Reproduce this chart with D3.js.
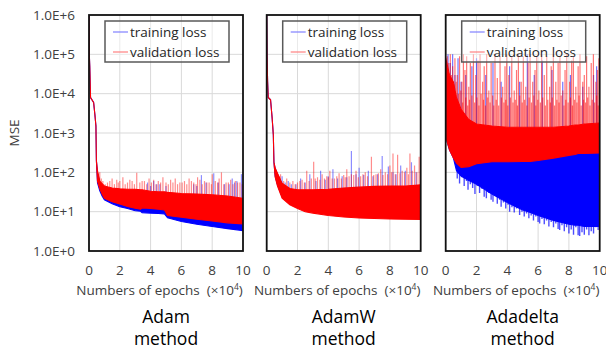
<!DOCTYPE html>
<html>
<head>
<meta charset="utf-8">
<script src="https://cdn.jsdelivr.net/npm/d3@7"></script>
<style>
body{margin:0;background:#fff;}
text{font-family:"Open Sans",sans-serif;}
</style>
</head>
<body>
<svg id="chart" width="606" height="349"></svg>
<script>
// ---- data (epochs in units of 10^4, loss = MSE) ----
const methods = ["Adam", "AdamW", "Adadelta"];
const seriesNames = ["training loss", "validation loss"];
const xTicks = [0, 2, 4, 6, 8, 10];
const yTicks = [1, 10, 100, 1e3, 1e4, 1e5, 1e6];
const yTickLabels = ["1.0E+0", "1.0E+1", "1.0E+2", "1.0E+3", "1.0E+4", "1.0E+5", "1.0E+6"];

// Adam
const adamEpochs   = [0, 0.02, 0.05, 0.1, 0.3, 0.38, 0.45, 0.48, 0.55, 0.7, 0.85, 1, 1.5, 2, 2.5, 3, 3.35, 3.45, 4, 4.5, 4.9, 5.1, 6, 7, 8, 9, 10];
const adamTrainLo  = [1e6, 1e5, 5e4, 8e3, 6e3, 3e3, 1.5e3, 200, 55, 34, 25, 20, 16, 13.4, 12, 10.6, 10.2, 9.4, 9.2, 9, 8.8, 7, 5.6, 4.8, 4.2, 3.7, 3.3];
const adamTrainHi  = [1e6, 1e5, 5e4, 8e3, 6e3, 3e3, 1.5e3, 200, 100, 55, 45, 40, 35, 33, 32, 32, 31, 31, 29, 28, 28, 27, 25, 24, 23, 22, 20];
const adamValidLo  = [1e6, 1e5, 5e4, 8e3, 6e3, 3e3, 1.5e3, 200, 60, 38, 28, 22, 18, 15.7, 13.5, 12.2, 11.5, 12.5, 12, 11.5, 11, 8, 7.2, 6.4, 5.8, 5.2, 4.9];
const adamValidHi  = [1e6, 1e5, 5e4, 8e3, 6e3, 3e3, 1.5e3, 200, 110, 60, 52, 45, 40, 38, 37, 37, 36, 36, 33, 32, 32, 31, 29, 28, 27, 25, 22];
const adamTrainSpikes = [[3.8,55],[4.2,60],[4.6,50],[5.0,45],[6.8,50],[7.3,85],[8.1,95],[8.4,55],[8.8,50],[9.3,70],[9.6,60],[9.9,90],[4.0,45],[4.4,50],[7.0,45],[7.6,55],[9.1,50],[9.45,55]];
const adamValidSpikes = [[0.7,100],[0.9,60],[1.2,55],[1.5,70],[1.8,65],[2.0,60],[2.2,75],[2.5,55],[2.8,60],[3.1,98],[3.3,55],[3.6,60],[3.9,70],[4.2,65],[4.5,60],[4.8,75],[5.0,55],[5.3,65],[5.6,70],[5.9,55],[6.2,60],[6.5,70],[6.8,55],[7.2,65],[7.5,60],[7.8,55],[8.0,90],[8.2,60],[8.6,100],[8.9,55],[9.2,65],[9.5,60],[9.8,55],
  [0.8,70],[1.05,50],[1.35,60],[1.65,50],[1.9,55],[2.35,50],[2.65,65],[2.95,50],[3.45,60],[3.75,50],[4.05,55],[4.35,50],[4.65,55],[5.15,50],[5.45,55],[5.75,50],[6.05,55],[6.35,50],[6.65,60],[6.95,50],[7.05,75],[7.35,50],[7.65,55],[7.95,50],[8.35,55],[8.45,70],[8.75,50],[9.05,55],[9.35,50],[9.65,55],[9.95,50]];
const adamTrainDips = [];

// AdamW
const adamwEpochs  = [0, 0.02, 0.06, 0.1, 0.25, 0.35, 0.43, 0.47, 0.55, 0.7, 1, 1.5, 2, 2.5, 3, 4, 5, 6, 7, 8, 9, 10];
const adamwTrainLo = [1e6, 1e5, 2e4, 8e3, 7e3, 2.5e3, 900, 180, 80, 48, 24, 16, 13, 11, 10, 8.6, 8, 7.5, 7.2, 7, 7, 6.9];
const adamwTrainHi = [1e6, 1e5, 2e4, 8e3, 7e3, 2.5e3, 900, 180, 125, 90, 50, 37, 34, 34, 34, 35, 38, 40, 42, 43, 43, 46];
const adamwValidLo = [1e6, 1e5, 2e4, 8e3, 7e3, 2.5e3, 900, 180, 75, 45, 22, 15, 12, 10, 9.2, 8, 7.3, 6.9, 6.7, 6.5, 6.4, 6.3];
const adamwValidHi = [1e6, 1e5, 2e4, 8e3, 7e3, 2.5e3, 900, 180, 130, 95, 53, 39, 36, 36, 36, 37, 40, 42, 44, 45, 45, 48];
const adamwTrainSpikes = [[1.0,80],[1.4,60],[2.2,70],[2.8,90],[3.5,110],[4.3,120],[5.5,350],[6.0,130],[6.6,110],[7.5,260],[7.9,140],[8.7,150],[9.4,180],[10,300],
  [1.2,55],[1.6,50],[1.9,50],[2.5,55],[3.2,60],[3.8,65],[4.0,80],[4.6,70],[4.9,80],[5.2,75],[5.8,90],[6.3,85],[6.9,80],[7.2,90],[8.2,100],[8.4,90],[9.0,110],[9.7,100]];
const adamwValidSpikes = [[0.9,90],[1.3,70],[1.7,60],[2.0,55],[2.3,65],[2.6,110],[2.9,70],[3.05,186],[3.3,75],[3.6,90],[3.9,80],[4.1,110],[4.4,70],[4.7,95],[5.0,85],[5.2,120],[5.5,90],[5.8,110],[6.1,80],[6.4,100],[6.8,250],[7.1,90],[7.4,120],[7.7,100],[8.0,150],[8.2,300],[8.5,280],[8.8,110],[9.1,130],[9.3,300],[9.6,150],[9.9,250],
  [0.8,70],[1.1,60],[1.5,55],[1.85,50],[2.15,60],[2.45,55],[2.75,60],[3.15,70],[3.45,65],[3.75,70],[4.0,75],[4.25,70],[4.55,80],[4.85,70],[5.1,75],[5.35,80],[5.65,85],[5.95,75],[6.25,90],[6.55,80],[6.95,85],[7.25,95],[7.55,85],[7.85,90],[8.1,100],[8.35,90],[8.65,95],[8.95,100],[9.2,90],[9.45,110],[9.75,100]];
const adamwTrainDips = [];

// Adadelta
const adadeltaEpochs  = [0, 0.25, 0.5, 0.7, 1, 1.5, 2, 3, 4, 5, 5.5, 6, 7, 8, 8.4, 8.6, 9, 10];
const adadeltaTrainLo = [800, 370, 230, 110, 80, 62, 50, 28, 17, 11, 9.5, 8, 6, 4.8, 4.5, 4.5, 4.2, 4.2];
const adadeltaTrainHi = [1e3, 500, 300, 250, 200, 200, 220, 240, 240, 240, 240, 250, 280, 320, 330, 330, 340, 350];
const adadeltaValidLo = [800, 370, 230, 170, 134, 140, 165, 186, 186, 188, 190, 200, 230, 270, 285, 300, 300, 310];
const adadeltaValidHi = [8e4, 3e4, 2e4, 8e3, 4e3, 2.2e3, 1.7e3, 1.5e3, 1.4e3, 1.4e3, 1.4e3, 1.4e3, 1.4e3, 1.5e3, 1.6e3, 1.6e3, 1.7e3, 1.8e3];
const adadeltaTrainSpikes = [[0.15,1e5],[0.3,6e4],[0.45,1e5],[0.6,3e4],[0.8,8e4],[1.0,2e4],[1.3,3e4],[1.7,5e4],[2.0,8e4],[2.6,3e4],[3.07,6e4],[3.6,2e4],[4.15,5e4],[4.8,2e4],[5.3,1e5],[5.75,3e4],[6.27,7e4],[6.9,4e4],[7.6,2e4],[8.1,3e4],[8.9,1.5e4],[9.6,3e4],[9.8,5e4]];
const adadeltaValidSpikes = [[0.1,9e4],[0.2,6e4],[0.3,1e5],[0.45,5e4],[0.6,8e4],[0.75,3e4],[0.9,9e4],[1.05,2e4],[1.15,1e5],[1.25,4e4],[1.36,9e4],[1.5,1.5e4],[1.6,6e4],[1.8,1e5],[1.95,3e4],[2.1,7e4],[2.23,1e5],[2.4,2e4],[2.5,5e4],[2.66,1e5],[2.8,1.2e4],[2.95,6e4],[3.2,1e5],[3.35,2.5e4],[3.53,9e4],[3.7,1.5e4],[3.85,5e4],[3.96,1e5],[4.1,3e4],[4.29,9e4],[4.45,1.2e4],[4.6,4e4],[4.72,1e5],[4.9,2e4],[5.04,9e4],[5.2,1.5e4],[5.35,6e4],[5.48,1e5],[5.65,2e4],[5.8,4e4],[5.91,9e4],[6.05,1.2e4],[6.23,1e5],[6.4,3e4],[6.56,9e4],[6.75,1.5e4],[6.85,5e4],[6.99,1e5],[7.15,2e4],[7.3,6e4],[7.42,9e4],[7.6,1.2e4],[7.75,4e4],[7.86,1e5],[8.05,2e4],[8.18,7e4],[8.29,9e4],[8.45,1.5e4],[8.6,5e4],[8.72,1e5],[8.9,2e4],[9.0,3e4],[9.15,9e4],[9.3,1.5e4],[9.45,6e4],[9.59,1e5],[9.75,2e4],[9.85,4e4],[9.95,8e4],
  [0.05,5e4],[0.38,3e4],[0.53,1.5e4],[0.68,2e4],[0.82,1e4],[0.98,1.2e4],[1.1,6e3],[1.3,8e3],[1.43,5e3],[1.55,7e3],[1.7,9e3],[1.88,6e3],[2.03,8e3],[2.16,5e3],[2.3,1e4],[2.45,7e3],[2.58,5e3],[2.73,8e3],[2.88,6e3],[3.05,9e3],[3.12,5e3],[3.28,7e3],[3.44,5e3],[3.62,8e3],[3.78,6e3],[3.9,7e3],[4.03,5e3],[4.2,8e3],[4.37,6e3],[4.52,7e3],[4.66,5e3],[4.81,9e3],[4.97,6e3],[5.12,7e3],[5.27,5e3],[5.42,8e3],[5.57,6e3],[5.72,9e3],[5.85,5e3],[5.98,7e3],[6.15,6e3],[6.3,8e3],[6.47,5e3],[6.63,7e3],[6.8,6e3],[6.92,8e3],[7.07,5e3],[7.22,7e3],[7.36,6e3],[7.5,9e3],[7.68,5e3],[7.8,7e3],[7.95,6e3],[8.1,8e3],[8.23,5e3],[8.37,7e3],[8.52,6e3],[8.66,9e3],[8.8,5e3],[8.95,7e3],[9.08,6e3],[9.22,8e3],[9.37,5e3],[9.52,7e3],[9.67,6e3],[9.8,9e3],[9.9,5e3]];
const adadeltaTrainDips = [[0.75,70],[0.9,52],[1.05,75],[1.2,45],[1.35,60],[1.45,36],[1.6,50],[1.75,40],[1.9,28],[2.05,45],[2.2,30],[2.35,38],[2.5,24],[2.64,22],[2.8,30],[2.95,20],[3.07,18],[3.2,25],[3.35,16],[3.5,20],[3.6,13.4],[3.75,17],[3.9,12],[4.05,15],[4.15,10],[4.3,13],[4.45,9.5],[4.6,12],[4.8,8.2],[4.95,10],[5.1,7.5],[5.25,9],[5.4,6.8],[5.55,8],[5.7,6],[5.85,7.5],[6.0,5.5],[6.1,5],[6.25,6.5],[6.4,4.8],[6.55,6],[6.7,4.2],[6.85,5.5],[7.0,4],[7.15,5],[7.3,3.6],[7.4,3.4],[7.55,4.5],[7.7,3.2],[7.85,4],[8.0,2.8],[8.15,3.5],[8.3,2.6],[8.45,4],[8.6,2.5],[8.7,2.4],[8.85,3],[9.0,2.6],[9.15,3.5],[9.3,2.5],[9.45,3.2],[9.6,2.8],[9.75,4],[9.9,3.4]];

const panels = [
  {name: methods[0], epochs: adamEpochs, train: [adamTrainLo, adamTrainHi, adamTrainSpikes, adamTrainDips], valid: [adamValidLo, adamValidHi, adamValidSpikes]},
  {name: methods[1], epochs: adamwEpochs, train: [adamwTrainLo, adamwTrainHi, adamwTrainSpikes, adamwTrainDips], valid: [adamwValidLo, adamwValidHi, adamwValidSpikes]},
  {name: methods[2], epochs: adadeltaEpochs, train: [adadeltaTrainLo, adadeltaTrainHi, adadeltaTrainSpikes, adadeltaTrainDips], valid: [adadeltaValidLo, adadeltaValidHi, adadeltaValidSpikes]}
];

// ---- layout ----
const plotTop = 15, plotBottom = 251, plotWidth = 154;
const plotLefts = [89, 266.7, 445.7];
const blue = "#0000ff", red = "#ff0000", textColor = "#404040";

const svg = d3.select("#chart");

panels.forEach((p, i) => drawPanel(p, i));

// y axis labels (first panel only)
const y0 = d3.scaleLog().domain([1, 1e6]).range([plotBottom, plotTop]);
svg.append("g")
  .selectAll("text")
  .data(yTicks)
  .enter()
  .append("text")
  .attr("x", 75)
  .attr("y", d => y0(d))
  .attr("dy", "0.35em")
  .attr("text-anchor", "end")
  .attr("font-size", 13.5)
  .attr("fill", textColor)
  .text((d, i) => yTickLabels[i]);

svg.append("text")
  .attr("transform", "translate(19," + ((plotTop + plotBottom) / 2) + ") rotate(-90)")
  .attr("text-anchor", "middle")
  .attr("font-size", 13.5)
  .attr("fill", textColor)
  .text("MSE");

function drawPanel(p, i){
  const left = plotLefts[i];
  const x = d3.scaleLinear().domain([0, 10]).range([left, left + plotWidth]);
  const y = d3.scaleLog().domain([1, 1e6]).range([plotBottom, plotTop]);
  const g = svg.append("g").attr("class", "panel");
  const spikeOpacity = i === 2 ? 0.55 : 0.45;

  g.append("clipPath").attr("id", "clip" + i)
    .append("rect")
    .attr("x", left).attr("y", plotTop)
    .attr("width", plotWidth).attr("height", plotBottom - plotTop);

  // gridlines
  g.append("g").selectAll("line")
    .data(xTicks.slice(1, -1))
    .enter().append("line")
    .attr("x1", d => x(d)).attr("x2", d => x(d))
    .attr("y1", plotTop).attr("y2", plotBottom)
    .attr("stroke", "#d9d9d9");
  g.append("g").selectAll("line")
    .data(yTicks.slice(1, -1))
    .enter().append("line")
    .attr("x1", left).attr("x2", left + plotWidth)
    .attr("y1", d => y(d)).attr("y2", d => y(d))
    .attr("stroke", "#d9d9d9");

  const plot = g.append("g").attr("clip-path", "url(#clip" + i + ")");
  drawSeries(plot, x, y, p.epochs, p.train, blue, spikeOpacity);
  drawSeries(plot, x, y, p.epochs, p.valid, red, spikeOpacity);

  // frame
  g.append("rect")
    .attr("x", left).attr("y", plotTop)
    .attr("width", plotWidth).attr("height", plotBottom - plotTop)
    .attr("fill", "none").attr("stroke", "#111").attr("stroke-width", 1.8);

  // x tick labels
  g.append("g").selectAll("text")
    .data(xTicks)
    .enter().append("text")
    .attr("x", d => x(d))
    .attr("y", 275)
    .attr("text-anchor", "middle")
    .attr("font-size", 13.5)
    .attr("fill", textColor)
    .text(d => d);

  const lab = g.append("text")
    .attr("x", left + plotWidth / 2 - 6.5)
    .attr("y", 294.5)
    .attr("text-anchor", "middle")
    .attr("font-size", 13.5)
    .attr("fill", textColor)
    .style("white-space", "pre");
  lab.append("tspan").text("Numbers of epochs  (×10");
  lab.append("tspan").attr("font-size", 8.5).attr("dy", -5).text("4");
  lab.append("tspan").attr("dy", 5).text(")");

  g.append("text")
    .attr("x", left + plotWidth / 2)
    .attr("y", 322.5)
    .attr("text-anchor", "middle")
    .attr("font-size", 17.5)
    .attr("fill", "#000")
    .text(p.name);
  g.append("text")
    .attr("x", left + plotWidth / 2)
    .attr("y", 345)
    .attr("text-anchor", "middle")
    .attr("font-size", 17.5)
    .attr("fill", "#000")
    .text("method");

  // legend
  const lg = g.append("g").attr("transform", "translate(" + (left + 16) + ",21)");
  lg.append("rect")
    .attr("width", 124).attr("height", 41)
    .attr("fill", "#fff").attr("fill-opacity", 0.45)
    .attr("stroke", "#595959").attr("stroke-width", 1.5);
  const items = lg.selectAll("g.item")
    .data(seriesNames)
    .enter().append("g")
    .attr("class", "item")
    .attr("transform", (d, k) => "translate(0," + (11 + k * 20) + ")");
  items.append("line")
    .attr("x1", 8).attr("x2", 23)
    .attr("stroke", (d, k) => k === 0 ? "#8080ff" : "#ff8080")
    .attr("stroke-width", 1.2);
  items.append("text")
    .attr("x", 25)
    .attr("dy", "0.35em")
    .attr("font-size", 13.5)
    .attr("fill", "#262626")
    .text(d => d);
}

function drawSeries(plot, x, y, epochs, s, color, spikeOpacity){
  const lo = s[0], hi = s[1], spikes = s[2], dips = s[3] || [];
  const rows = epochs.map((e, k) => ({e: e, lo: lo[k], hi: hi[k]}));
  // piecewise scales along the band edges (log space), to anchor spikes
  const hiAt = d3.scaleLinear().domain(epochs).range(hi.map(Math.log10));
  const loAt = d3.scaleLinear().domain(epochs).range(lo.map(Math.log10));

  plot.append("g").selectAll("line")
    .data(dips)
    .enter().append("line")
    .attr("x1", d => x(d[0])).attr("x2", d => x(d[0]))
    .attr("y1", d => y(Math.pow(10, loAt(d[0])))).attr("y2", d => y(d[1]))
    .attr("stroke", color).attr("stroke-opacity", 0.7).attr("stroke-width", 1.4);

  plot.append("path")
    .datum(rows)
    .attr("d", d3.area().x(d => x(d.e)).y0(d => y(d.lo)).y1(d => y(d.hi)))
    .attr("fill", color)
    .attr("stroke", color)
    .attr("stroke-width", 1.1);

  plot.append("g").selectAll("line")
    .data(spikes)
    .enter().append("line")
    .attr("x1", d => x(d[0])).attr("x2", d => x(d[0]))
    .attr("y1", d => y(Math.pow(10, hiAt(d[0])))).attr("y2", d => y(d[1]))
    .attr("stroke", color).attr("stroke-opacity", spikeOpacity).attr("stroke-width", 1.2);
}
</script>
</body>
</html>
